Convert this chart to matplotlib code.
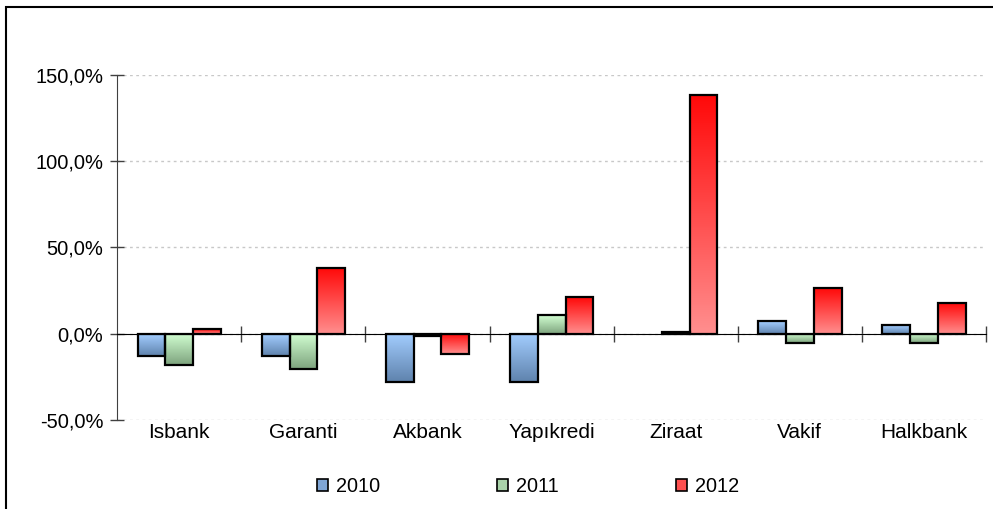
import numpy as np
import matplotlib
matplotlib.use("Agg")
import matplotlib.pyplot as plt
from matplotlib.colors import LinearSegmentedColormap
from matplotlib.patches import Patch, Rectangle
from matplotlib.ticker import FuncFormatter

plt.rcParams["font.family"] = ["Liberation Sans", "DejaVu Sans"]

banks = ["Isbank", "Garanti", "Akbank", "Yapıkredi", "Ziraat", "Vakif", "Halkbank"]
years = ["2010", "2011", "2012"]
growth_2010 = [-12.7, -12.7, -28.0, -28.0, 0.0, 7.5, 5.2]
growth_2011 = [-18.0, -20.5, -1.5, 11.0, 1.0, -5.4, -5.4]
growth_2012 = [2.7, 38.2, -11.6, 21.2, 138.4, 26.6, 17.8]

# top colour, bottom colour of each bar's gradient
grad_colors = [("#a3cdff", "#5f83ad"), ("#d2ffd2", "#7ea47e"), ("#ff0a0a", "#ff8e8e")]
legend_colors = ["#7fa6d6", "#a9d3a9", "#ff5050"]

fig = plt.figure(figsize=(9.93, 5.09), dpi=100)
ax = fig.add_axes([0.1181, 0.1749, 0.8748, 0.6778])

x = np.arange(len(banks))
width = 0.224
series = [growth_2010, growth_2011, growth_2012]
grad = np.linspace(0, 1, 64).reshape(-1, 1)

for i, vals in enumerate(series):
    cmap = LinearSegmentedColormap.from_list(f"g{i}", [grad_colors[i][0], grad_colors[i][1]])
    offs = x + (i - 1) * width
    lws = [1.6 if v != 0 else 0 for v in vals]
    bars = ax.bar(offs, vals, width, facecolor="none", edgecolor="black", linewidth=lws, zorder=4)
    for b, v in zip(bars, vals):
        if v == 0:
            continue
        x0 = b.get_x()
        y0, y1 = min(0, v), max(0, v)
        ax.imshow(grad, cmap=cmap, extent=(x0, x0 + width, y0, y1), origin="upper",
                  aspect="auto", zorder=3, interpolation="bilinear")

ax.set_xlim(-0.5, len(banks) - 0.5)
ax.set_ylim(-50, 150)
ax.set_yticks([-50, 0, 50, 100, 150])
ax.yaxis.set_major_formatter(FuncFormatter(lambda v, p: f"{v:.1f}%".replace(".", ",")))
ax.yaxis.grid(True, color="#c8c8c8", linestyle=(0, (2, 2.5)), linewidth=1)
ax.set_axisbelow(True)
ax.tick_params(axis="y", direction="inout", length=10, width=1, color="#404040",
               labelsize=14.5, pad=5)

for s in ["top", "right"]:
    ax.spines[s].set_visible(False)
ax.spines["left"].set_color("#404040")
ax.spines["bottom"].set_position(("data", 0))
ax.spines["bottom"].set_zorder(5)
ax.set_xticks(np.arange(len(banks)) + 0.5)
ax.set_xticklabels([])
ax.tick_params(axis="x", direction="inout", length=11, width=1, color="#404040")

for xi, name in zip(x, banks):
    ax.text(xi, -0.01, name, transform=ax.get_xaxis_transform(), ha="center", va="top",
            fontsize=15)

handles = [Patch(facecolor=c, edgecolor="black", linewidth=1.2) for c in legend_colors]
fig.legend(handles, years, loc="center", bbox_to_anchor=(0.532, 1 - 487 / 509), ncol=3,
           frameon=False, fontsize=14.3, handlelength=0.55, handleheight=0.55,
           handletextpad=0.4, columnspacing=5.9)

fig.patches.append(Rectangle((6 / 993, -0.05), 1.2, 1.05 - 7 / 509, transform=fig.transFigure,
                             fill=False, edgecolor="black", linewidth=1.5))

fig.savefig("out.png", dpi=100)
